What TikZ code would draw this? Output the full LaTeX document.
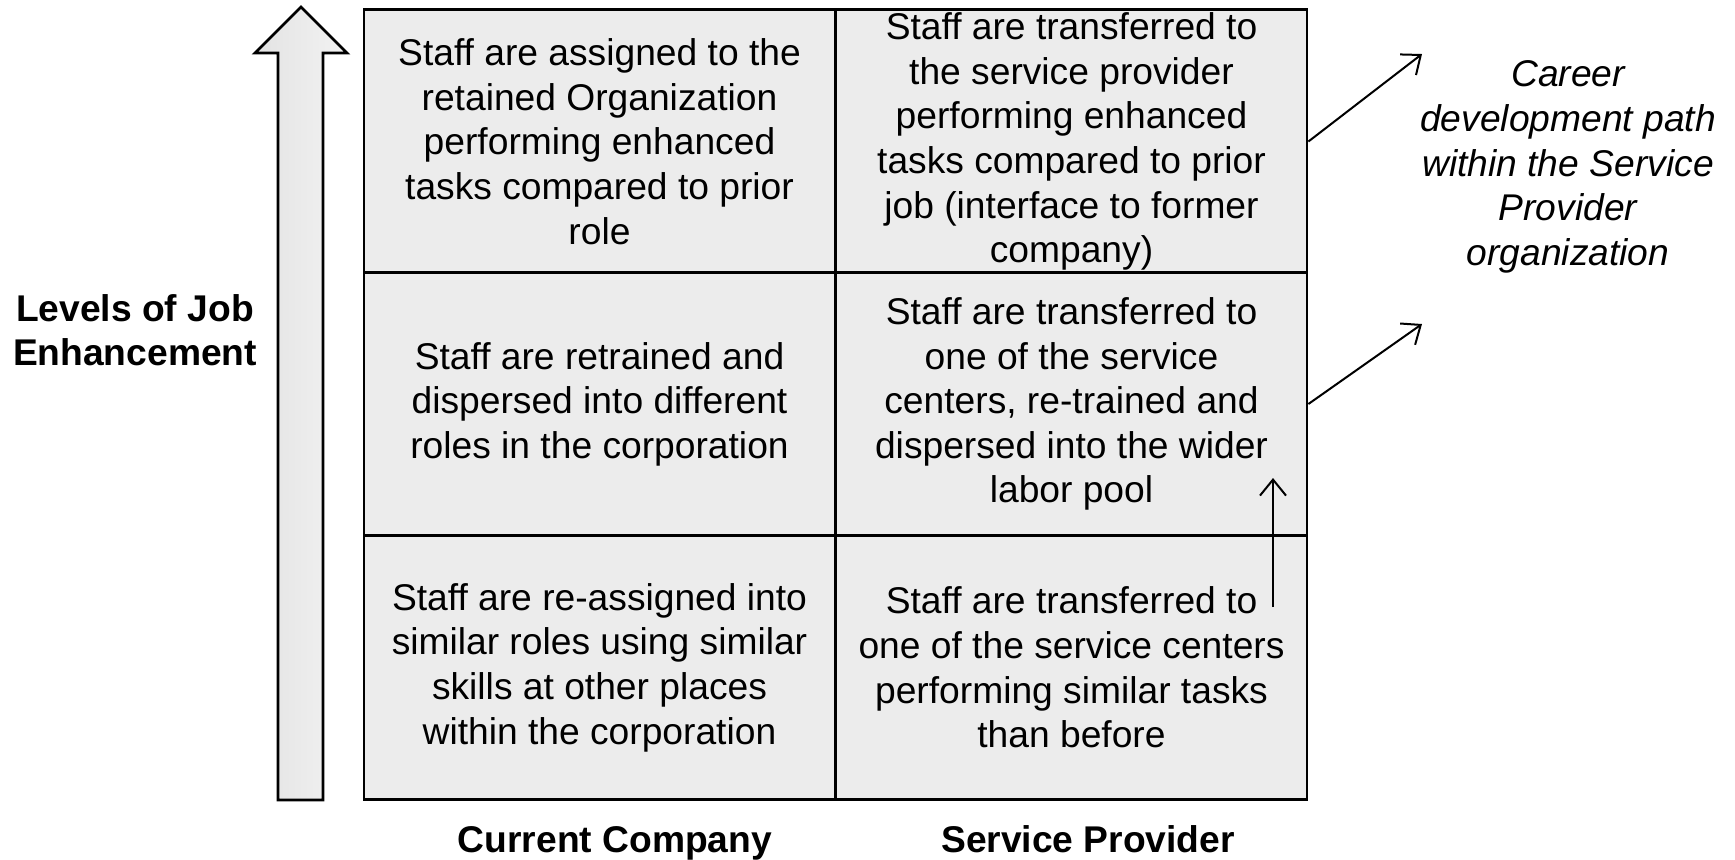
\documentclass[tikz,border=0pt]{standalone}
\usepackage{fontspec}
\setmainfont{Liberation Sans}
\usetikzlibrary{arrows.meta}

\tikzset{
  cell/.style={draw, line width=1.4pt, fill=gray!15, minimum width=235.5pt,
    minimum height=131.7pt, align=center, inner sep=0pt,
    font=\fontsize{18.6}{22.3}\selectfont},
  axislabel/.style={align=center, font=\fontsize{18.6}{22.3}\selectfont\bfseries},
  pathlabel/.style={align=center, font=\fontsize{18.6}{22.3}\selectfont\itshape},
  >={Straight Barb[length=8pt,width=13pt]}
}

\begin{document}
\begin{tikzpicture}[x=0.5pt,y=-0.5pt]
  \useasboundingbox (0,0) rectangle (1735,859);

  % Rising axis arrow
  \draw[line width=1.4pt, left color=gray!22, right color=gray!10]
    (301,7) -- (347,53) -- (323,53) -- (323,800) -- (278,800)
    -- (278,53) -- (255,53) -- cycle;
  \node[axislabel] (level) at (135,330) {Levels of Job\\Enhancement};

  % Grid of outcomes
  \node[cell] (tl) at (599.5,141.5) {Staff are assigned to the\\retained Organization\\performing enhanced\\tasks compared to prior\\role};
  \node[cell] (tr) at (1071.5,141.5) {Staff are transferred to\\the service provider\\performing enhanced\\tasks compared to prior\\job (interface to former\\company)};
  \node[cell] (ml) at (599.5,404) {Staff are retrained and\\dispersed into different\\roles in the corporation};
  \node[cell] (mr) at (1071.5,404) {Staff are transferred to\\one of the service\\centers, re-trained and\\dispersed into the wider\\labor pool};
  \node[cell] (bl) at (599.5,667.5) {Staff are re-assigned into\\similar roles using similar\\skills at other places\\within the corporation};
  \node[cell] (br) at (1071.5,667.5) {Staff are transferred to\\one of the service centers\\performing similar tasks\\than before};

  % Column labels
  \node[axislabel, anchor=base] (cur) at (615,852) {Current Company};
  \node[axislabel, anchor=base] (prov) at (1088,852) {Service Provider};

  % Career path arrows
  \coordinate (up1) at (1422,54);
  \coordinate (up2) at (1422,324);
  \coordinate (stepfrom) at (1273,607);
  \coordinate (stepto) at (1273,478);
  \draw[->, line width=1pt] (tr.east) -- (up1);
  \draw[->, line width=1pt] (mr.east) -- (up2);
  \draw[->, line width=1pt] (stepfrom) -- (stepto);

  \node[pathlabel] (career) at (1568,167) {Career\\development path\\within the Service\\Provider\\organization};
\end{tikzpicture}
\end{document}
